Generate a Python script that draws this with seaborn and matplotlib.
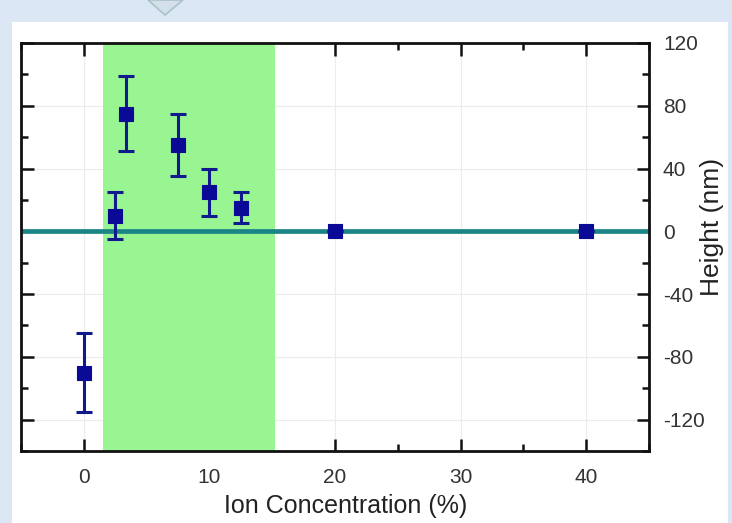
import matplotlib
matplotlib.use("Agg")
import matplotlib.pyplot as plt
import matplotlib.patches as mpatches
from matplotlib.ticker import MultipleLocator
import seaborn as sns
import pandas as pd

# ---- data ----
concentration = [0, 2.5, 3.33, 7.5, 10, 12.5, 20, 40]
height = [-90, 10, 75, 55, 25, 15, 0, 0]
height_err = [25, 15, 24, 20, 15, 10, 0, 0]
x_ticks = [0, 10, 20, 30, 40]
y_ticks = [-120, -80, -40, 0, 40, 80, 120]
span_range = [1.5, 15.2]
baseline = 0

df = pd.DataFrame({"conc": concentration, "h": height, "err": height_err})

sns.set_theme(style="ticks")
plt.rcParams["font.family"] = ["Liberation Sans", "DejaVu Sans"]
plt.rcParams["axes.unicode_minus"] = False

fig = plt.figure(figsize=(7.32, 5.23), dpi=100)
fig.patch.set_facecolor("#dbe7f4")

# white slide panel
W, H = 732, 523
fig.patches.append(mpatches.Rectangle((12 / W, 0), (728 - 12) / W, (H - 22) / H,
                                      transform=fig.transFigure, facecolor="white",
                                      edgecolor="none", zorder=-5))
# decorative chevron at top
fig.patches.append(mpatches.Polygon([(148 / W, 1.0), (165 / W, 1 - 15 / H), (183 / W, 1.0)],
                                    closed=True, transform=fig.transFigure,
                                    facecolor="#d3e0ea", edgecolor="#a8c2c8", lw=1.2, zorder=-4))

ax = fig.add_axes([21 / W, (H - 451) / H, (649 - 21) / W, (451 - 43) / H])
ax.set_facecolor("white")

ax.axvspan(span_range[0], span_range[1], color="#98f592", zorder=1, lw=0)
ax.axhline(baseline, color="#1b8585", lw=3.4, zorder=2)

ax.errorbar(df["conc"], df["h"], yerr=df["err"], fmt="none", ecolor="#101a8c",
            elinewidth=2.2, capsize=6, capthick=2.2, zorder=3)
sns.scatterplot(data=df, x="conc", y="h", marker="s", s=90, color="#0a0a96",
                edgecolor="#0a0a96", linewidth=0.8, ax=ax, zorder=4, legend=False)

ax.set_xlim(-5, 45)
ax.set_ylim(-140, 120)
ax.set_xticks(x_ticks)
ax.set_yticks(y_ticks)
ax.xaxis.set_minor_locator(MultipleLocator(5))
ax.yaxis.set_minor_locator(MultipleLocator(20))
ax.grid(True, which="major", color="#ececec", lw=0.8, zorder=0)
ax.set_axisbelow(True)

ax.yaxis.tick_right()
ax.yaxis.set_label_position("right")
ax.tick_params(axis="both", which="both", direction="in", top=True, bottom=True,
               left=True, right=True, colors="#111111", labelcolor="#333333")
ax.tick_params(axis="both", which="major", length=9, width=1.8, labelsize=15)
ax.tick_params(axis="both", which="minor", length=5, width=1.8)
ax.tick_params(axis="x", which="major", pad=12)
ax.tick_params(axis="y", which="major", pad=10)
for s in ax.spines.values():
    s.set_linewidth(2)
    s.set_color("#111111")

ax.set_xlabel("Ion Concentration (%)", fontsize=18, color="#222222")
ax.set_ylabel("Height (nm)", fontsize=19, color="#222222")
ax.xaxis.set_label_coords(0.517, -0.105)
ax.yaxis.set_label_coords(1.082, 0.55)

fig.savefig("out.png", dpi=100, facecolor=fig.get_facecolor())
